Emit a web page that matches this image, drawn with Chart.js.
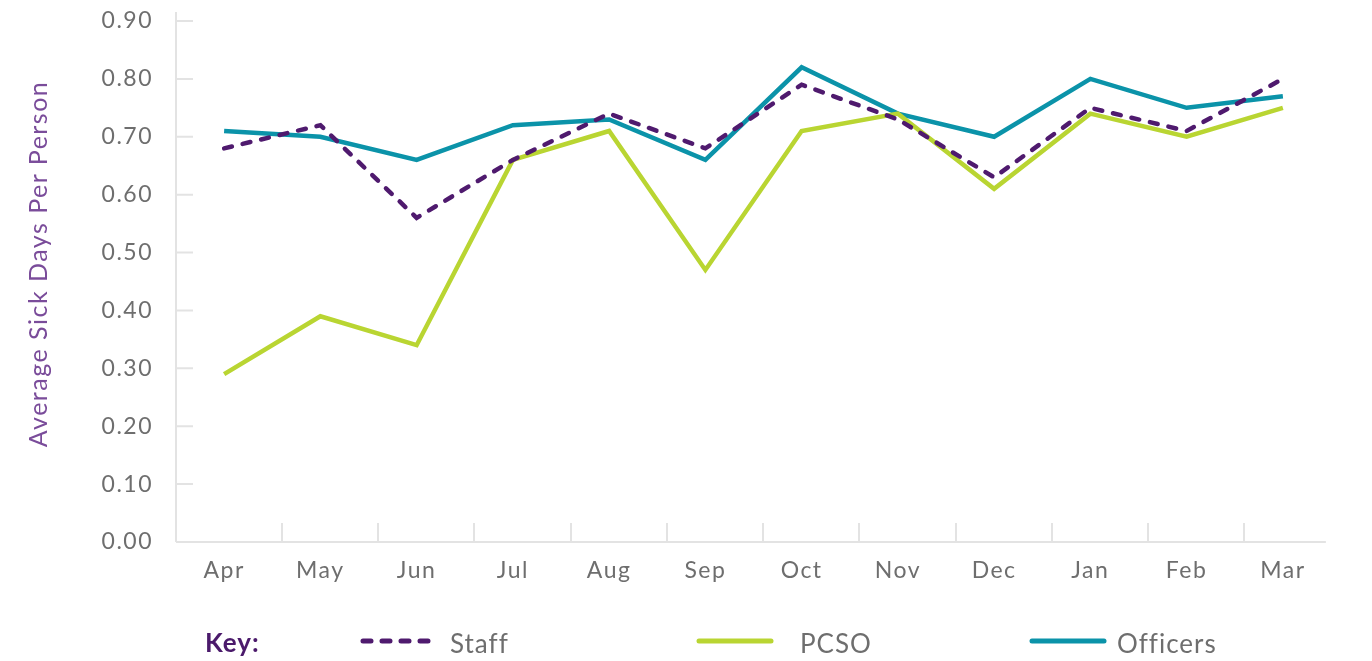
<!DOCTYPE html>
<html>
<head>
<meta charset="utf-8">
<script src="https://cdn.jsdelivr.net/npm/chart.js@4/dist/chart.umd.min.js"></script>
<style>
  html, body { margin: 0; padding: 0; background: #ffffff; }
  #wrap { position: relative; width: 1372px; height: 661px; overflow: hidden; }
  #c { position: absolute; left: 0; top: 0; }
  .lg { position: absolute; font-family: Lato, "Open Sans", sans-serif; font-size: 26px; line-height: 28px; letter-spacing: 1px; color: #6e6e6e; white-space: nowrap; }
  .key { color: #4b1a6b; font-weight: 700; }
  svg.sw { position: absolute; }
  #ytitle { position: absolute; left: -163px; top: 249px; width: 400px; height: 30px; line-height: 30px; text-align: center;
            font-family: Lato, "Open Sans", sans-serif; font-size: 25px; letter-spacing: 1.5px; color: #7a4c9a;
            transform: rotate(-90deg); transform-origin: 50% 50%; white-space: nowrap; }
</style>
</head>
<body>
<div id="wrap">
  <canvas id="c" width="1372" height="661"></canvas>
  <div id="ytitle">Average Sick Days Per Person</div>
  <div class="lg key" style="left:205px; top:628px;">Key:</div>
  <svg class="sw" style="left:357px; top:635px;" width="84" height="12"><line x1="6" y1="6" x2="72" y2="6" stroke="#4f1a6e" stroke-width="5" stroke-linecap="round" stroke-dasharray="8 11"/></svg>
  <div class="lg" style="left:450px; top:629px;">Staff</div>
  <svg class="sw" style="left:693px; top:635px;" width="84" height="12"><line x1="6" y1="6" x2="78" y2="6" stroke="#b9d532" stroke-width="5" stroke-linecap="round"/></svg>
  <div class="lg" style="left:800px; top:629px;">PCSO</div>
  <svg class="sw" style="left:1026px; top:635px;" width="84" height="12"><line x1="6" y1="6" x2="78" y2="6" stroke="#0b93a9" stroke-width="5" stroke-linecap="round"/></svg>
  <div class="lg" style="left:1117px; top:629px;">Officers</div>
</div>
<script>
const months = ["Apr","May","Jun","Jul","Aug","Sep","Oct","Nov","Dec","Jan","Feb","Mar"];
const staff    = [0.68, 0.72, 0.56, 0.66, 0.74, 0.68, 0.79, 0.73, 0.63, 0.75, 0.71, 0.80];
const pcso     = [0.29, 0.39, 0.34, 0.66, 0.71, 0.47, 0.71, 0.74, 0.61, 0.74, 0.70, 0.75];
const officers = [0.71, 0.70, 0.66, 0.72, 0.73, 0.66, 0.82, 0.74, 0.70, 0.80, 0.75, 0.77];
const yTicks   = [0, 0.1, 0.2, 0.3, 0.4, 0.5, 0.6, 0.7, 0.8, 0.9];

const AXIS_COLOR = "#e3e3e3";
const FONT = 'Lato, "Open Sans", sans-serif';

const spacingPlugin = {
  id: "spacing",
  beforeUpdate(chart) { chart.ctx.letterSpacing = "1.5px"; },
  beforeDraw(chart) { chart.ctx.letterSpacing = "1.5px"; }
};

const axisPlugin = {
  id: "innerTicks",
  beforeDatasetsDraw(chart) {
    const ctx = chart.ctx;
    const x = chart.scales.x, y = chart.scales.y;
    const left = chart.chartArea.left, bottom = chart.chartArea.bottom;
    ctx.save();
    ctx.strokeStyle = AXIS_COLOR;
    ctx.lineWidth = 2;
    ctx.beginPath();
    ctx.moveTo(left, chart.chartArea.top - 9);
    ctx.lineTo(left, bottom);
    ctx.moveTo(left, bottom);
    ctx.lineTo(x.getPixelForValue(months.length - 1) + 43, bottom);
    yTicks.forEach(v => {
      if (v === 0) return;
      const py = y.getPixelForValue(v);
      ctx.moveTo(left, py);
      ctx.lineTo(left + 17, py);
    });
    for (let i = 0; i < months.length - 1; i++) {
      const px = Math.round(x.getPixelForValue(i + 0.6));
      ctx.moveTo(px, bottom);
      ctx.lineTo(px, bottom - 19);
    }
    ctx.stroke();
    ctx.restore();
  }
};

new Chart(document.getElementById("c"), {
  type: "line",
  data: {
    labels: months,
    datasets: [
      { label: "Staff", data: staff, borderColor: "#4f1a6e", borderWidth: 4.5, borderDash: [8, 11], borderCapStyle: "round", pointRadius: 0, tension: 0, order: 0 },
      { label: "PCSO", data: pcso, borderColor: "#b9d532", borderWidth: 4.5, pointRadius: 0, tension: 0, order: 1 },
      { label: "Officers", data: officers, borderColor: "#0b93a9", borderWidth: 4.5, pointRadius: 0, tension: 0, order: 2 }
    ]
  },
  options: {
    responsive: false,
    animation: false,
    layout: { padding: { top: 21, right: 41, bottom: 0, left: 0 } },
    plugins: { legend: { display: false }, tooltip: { enabled: false } },
    scales: {
      x: {
        offset: true,
        grid: { display: false, drawTicks: false },
        border: { display: false },
        ticks: { color: "#6e6e6e", font: { family: FONT, size: 23 }, padding: 15, maxRotation: 0 },
        afterFit(s) { s.height = 119; }
      },
      y: {
        min: 0, max: 0.9,
        grid: { display: false, drawTicks: false },
        border: { display: false },
        afterBuildTicks(s) { s.ticks = yTicks.map(v => ({ value: v })); },
        ticks: { color: "#6e6e6e", font: { family: FONT, size: 23 }, padding: 23, callback: v => Number(v).toFixed(2) },
        afterFit(s) { s.width = 176; s.paddingTop = 0; s.paddingBottom = 0; }
      }
    }
  },
  plugins: [spacingPlugin, axisPlugin]
});
</script>
</body>
</html>
